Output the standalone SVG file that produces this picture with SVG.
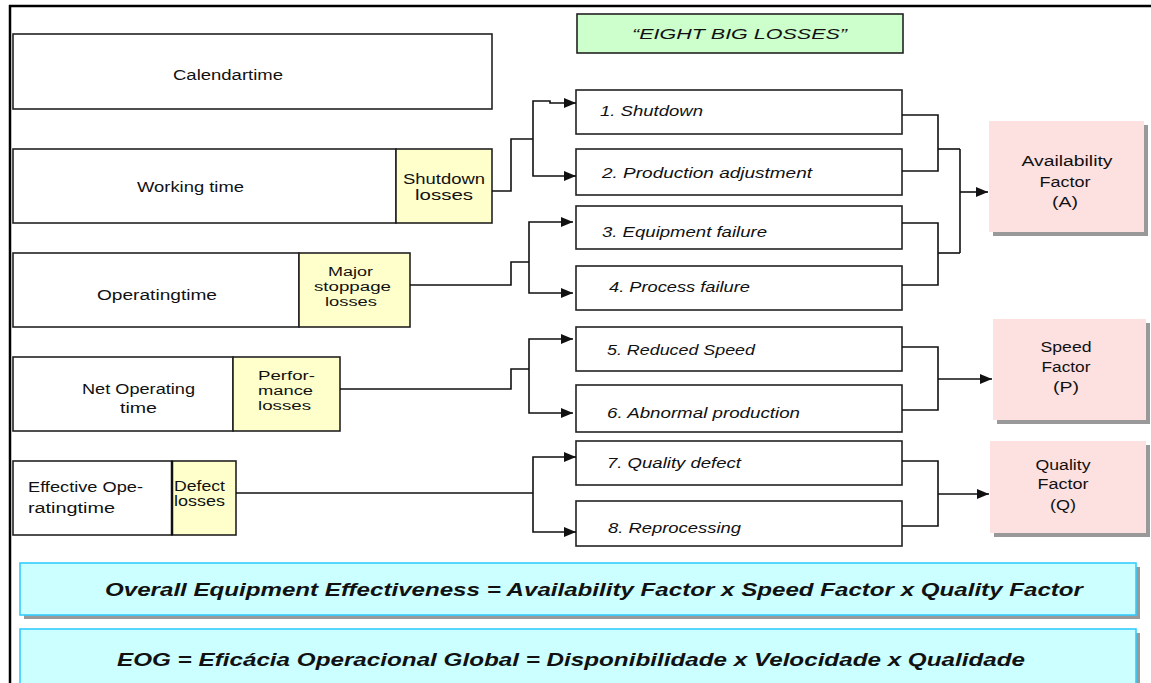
<svg xmlns="http://www.w3.org/2000/svg" width="1151" height="683" viewBox="0 0 1151 683">
<style>
text{font-family:"Liberation Sans",Arial,sans-serif;fill:#111;}
.t{font-size:14px;}
.s{font-size:12px;}
.it{font-size:14px;font-style:italic;}
.big{font-size:18px;font-style:italic;font-weight:bold;}
.box{fill:#fff;stroke:#222;stroke-width:1.6;}
.yel{fill:#ffffcc;stroke:#222;stroke-width:1.6;}
.loss{fill:#fff;stroke:#222;stroke-width:1.6;}
.fac{fill:#fde0e0;}
.sh{fill:#999;}
.cy{fill:#ccffff;stroke:#33ccff;stroke-width:1.6;}
.con{fill:none;stroke:#111;stroke-width:1.6;}
.arr{fill:none;stroke:#111;stroke-width:1.6;marker-end:url(#ah);}
</style>
<defs>
<marker id="ah" viewBox="0 0 12 10" refX="12" refY="5" markerWidth="12" markerHeight="10" markerUnits="userSpaceOnUse" orient="auto">
<path d="M0,0 L12,5 L0,10 z" fill="#111"/>
</marker>
</defs>
<rect width="1151" height="683" fill="#fff"/>
<!-- frame -->
<line x1="9" y1="6" x2="1151" y2="6" stroke="#000" stroke-width="2.5"/>
<line x1="10" y1="5" x2="10" y2="683" stroke="#000" stroke-width="2.5"/>

<g id="title">
<rect x="577" y="14" width="326" height="39" fill="#ccffcc" stroke="#222" stroke-width="1.6"/>
<text class="it" x="632" y="39" textLength="215" lengthAdjust="spacingAndGlyphs" font-size="15">“EIGHT BIG LOSSES”</text>
</g>

<g id="calendar">
<rect class="box" x="13" y="34" width="479" height="75"/>
<text class="t" x="173" y="80" textLength="110" lengthAdjust="spacingAndGlyphs">Calendartime</text>
</g>
<g id="working">
<rect class="box" x="13" y="149" width="383" height="74"/>
<text class="t" x="137" y="192" textLength="107" lengthAdjust="spacingAndGlyphs">Working time</text>
<rect class="yel" x="396" y="149" width="96" height="74"/>
<text class="t" x="403" y="184" textLength="82" lengthAdjust="spacingAndGlyphs">Shutdown</text>
<text class="t" x="415" y="200" textLength="58" lengthAdjust="spacingAndGlyphs">losses</text>
</g>
<g id="operating">
<rect class="box" x="13" y="253" width="286" height="74"/>
<text class="t" x="97" y="300" textLength="120" lengthAdjust="spacingAndGlyphs">Operatingtime</text>
<rect class="yel" x="299" y="253" width="111" height="74"/>
<text class="s" x="328" y="276" textLength="45" lengthAdjust="spacingAndGlyphs">Major</text>
<text class="s" x="314" y="291" textLength="77" lengthAdjust="spacingAndGlyphs">stoppage</text>
<text class="s" x="325" y="306" textLength="52" lengthAdjust="spacingAndGlyphs">losses</text>
</g>
<g id="netoperating">
<rect class="box" x="13" y="357" width="220" height="74"/>
<text class="t" x="82" y="394" textLength="113" lengthAdjust="spacingAndGlyphs">Net Operating</text>
<text class="t" x="120" y="413" textLength="37" lengthAdjust="spacingAndGlyphs">time</text>
<rect class="yel" x="233" y="357" width="107" height="74"/>
<text class="s" x="258" y="380" textLength="57" lengthAdjust="spacingAndGlyphs">Perfor-</text>
<text class="s" x="258" y="395" textLength="55" lengthAdjust="spacingAndGlyphs">mance</text>
<text class="s" x="258" y="410" textLength="53" lengthAdjust="spacingAndGlyphs">losses</text>
</g>
<g id="effective">
<rect class="box" x="13" y="461" width="159" height="74"/>
<text class="t" x="28" y="492" textLength="115" lengthAdjust="spacingAndGlyphs">Effective Ope-</text>
<text class="t" x="28" y="513" textLength="87" lengthAdjust="spacingAndGlyphs">ratingtime</text>
<rect class="yel" x="172" y="461" width="64" height="74"/>
<line x1="172" y1="461" x2="172" y2="535" stroke="#111" stroke-width="2.5"/>
<text class="t" x="174" y="491" textLength="51" lengthAdjust="spacingAndGlyphs">Defect</text>
<text class="t" x="174" y="506" textLength="51" lengthAdjust="spacingAndGlyphs">losses</text>
</g>

<g id="loss1"><rect class="loss" x="576" y="90" width="326" height="44"/><text class="it" x="600" y="116" textLength="103" lengthAdjust="spacingAndGlyphs">1. Shutdown</text></g>
<g id="loss2"><rect class="loss" x="576" y="149" width="326" height="46"/><text class="it" x="602" y="178" textLength="210" lengthAdjust="spacingAndGlyphs">2. Production adjustment</text></g>
<g id="loss3"><rect class="loss" x="576" y="206" width="326" height="43"/><text class="it" x="602" y="237" textLength="165" lengthAdjust="spacingAndGlyphs">3. Equipment failure</text></g>
<g id="loss4"><rect class="loss" x="576" y="266" width="326" height="44"/><text class="it" x="609" y="292" textLength="141" lengthAdjust="spacingAndGlyphs">4. Process failure</text></g>
<g id="loss5"><rect class="loss" x="576" y="327" width="326" height="44"/><text class="it" x="607" y="355" textLength="148" lengthAdjust="spacingAndGlyphs">5. Reduced Speed</text></g>
<g id="loss6"><rect class="loss" x="576" y="385" width="326" height="47"/><text class="it" x="607" y="418" textLength="193" lengthAdjust="spacingAndGlyphs">6. Abnormal production</text></g>
<g id="loss7"><rect class="loss" x="576" y="441" width="326" height="44"/><text class="it" x="607" y="468" textLength="134" lengthAdjust="spacingAndGlyphs">7. Quality defect</text></g>
<g id="loss8"><rect class="loss" x="576" y="501" width="326" height="45"/><text class="it" x="608" y="533" textLength="133" lengthAdjust="spacingAndGlyphs">8. Reprocessing</text></g>

<g id="availability">
<rect class="sh" x="993" y="125" width="155" height="111"/>
<rect class="fac" x="989" y="121" width="155" height="111"/>
<text class="t" x="1067" y="166" text-anchor="middle" textLength="91" lengthAdjust="spacingAndGlyphs">Availability</text>
<text class="t" x="1065" y="187" text-anchor="middle" textLength="51" lengthAdjust="spacingAndGlyphs">Factor</text>
<text class="t" x="1065" y="207" text-anchor="middle" textLength="26" lengthAdjust="spacingAndGlyphs">(A)</text>
</g>
<g id="speed">
<rect class="sh" x="997" y="323" width="153" height="101"/>
<rect class="fac" x="993" y="319" width="153" height="101"/>
<text class="t" x="1066" y="352" text-anchor="middle" textLength="51" lengthAdjust="spacingAndGlyphs">Speed</text>
<text class="t" x="1066" y="372" text-anchor="middle" textLength="49" lengthAdjust="spacingAndGlyphs">Factor</text>
<text class="t" x="1066" y="392" text-anchor="middle" textLength="26" lengthAdjust="spacingAndGlyphs">(P)</text>
</g>
<g id="quality">
<rect class="sh" x="994" y="445" width="156" height="92"/>
<rect class="fac" x="990" y="441" width="156" height="92"/>
<text class="t" x="1063" y="470" text-anchor="middle" textLength="55" lengthAdjust="spacingAndGlyphs">Quality</text>
<text class="t" x="1063" y="489" text-anchor="middle" textLength="51" lengthAdjust="spacingAndGlyphs">Factor</text>
<text class="t" x="1063" y="510" text-anchor="middle" textLength="26" lengthAdjust="spacingAndGlyphs">(Q)</text>
</g>

<g id="oee">
<rect class="sh" x="24" y="567" width="1116" height="52"/>
<rect class="cy" x="20" y="563" width="1116" height="52"/>
<text class="big" x="105" y="596" textLength="978" lengthAdjust="spacingAndGlyphs">Overall Equipment Effectiveness = Availability Factor x Speed Factor x Quality Factor</text>
</g>
<g id="eog">
<rect class="sh" x="24" y="633" width="1116" height="60"/>
<rect class="cy" x="20" y="629" width="1116" height="60"/>
<text class="big" x="117" y="666" textLength="908" lengthAdjust="spacingAndGlyphs">EOG = Eficácia Operacional Global = Disponibilidade x Velocidade x Qualidade</text>
</g>

<g id="connectors">
<polyline class="con" points="492,191 511,191 511,139 533,139"/>
<polyline class="arr" points="533,139 533,101 550,101 550,103 576,103"/>
<polyline class="arr" points="533,139 533,176 576,176"/>
<polyline class="con" points="410,285 511,285 511,262 529,262"/>
<polyline class="arr" points="529,262 529,222 573,222"/>
<polyline class="arr" points="529,262 529,293 573,293"/>
<polyline class="con" points="340,389 511,389 511,369 529,369"/>
<polyline class="arr" points="529,369 529,339 573,339"/>
<polyline class="arr" points="529,369 529,413 573,413"/>
<polyline class="con" points="236,493 533,493"/>
<polyline class="arr" points="533,493 533,457 576,457"/>
<polyline class="arr" points="533,493 533,532 576,532"/>
<polyline class="con" points="902,115 938,115 938,171 902,171"/>
<polyline class="con" points="938,149 960,149"/>
<polyline class="con" points="902,223 938,223 938,285 902,285"/>
<polyline class="con" points="938,253 960,253"/>
<polyline class="con" points="960,149 960,253"/>
<polyline class="arr" points="960,192 988,192"/>
<polyline class="con" points="902,347 938,347 938,410 902,410"/>
<polyline class="arr" points="938,379 992,379"/>
<polyline class="con" points="902,461 938,461 938,526 902,526"/>
<polyline class="arr" points="938,494 989,494"/>
</g>
</svg>
